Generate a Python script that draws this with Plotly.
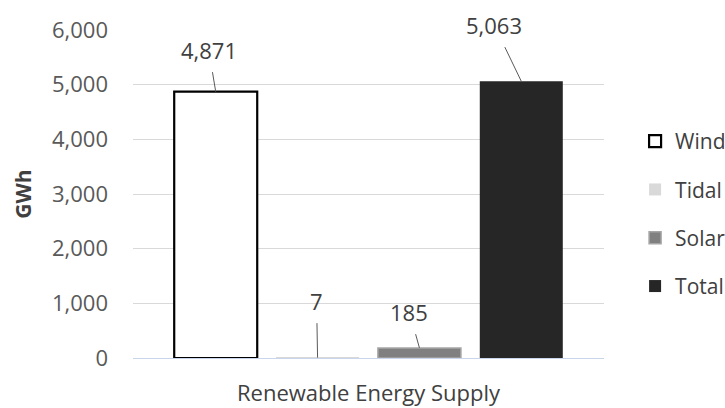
import plotly.graph_objects as go

category = ["Renewable Energy Supply"]
series_names = ["Wind", "Tidal", "Solar", "Total"]
series_values = [4871, 7, 185, 5063]
y_ticks = [0, 1000, 2000, 3000, 4000, 5000, 6000]

fill_colors = ["#ffffff", "#d9d9d9", "#808080", "#262626"]
line_colors = ["#000000", "#d9d9d9", "#a6a6a6", "#262626"]
line_widths = [2.2, 0, 1.5, 0]
# pixel offsets of each data label relative to its bar top (leader lines)
label_dx = [-7, -1, -10, -27]
label_dy = [-42, -57, -36, -56]

FONT = "Open Sans"
BARGAP = 0.135

fig = go.Figure()
for i, name in enumerate(series_names):
    fig.add_trace(go.Bar(
        x=category, y=[series_values[i]], name=name,
        legendgroup=name,
        marker=dict(color=fill_colors[i],
                    line=dict(color=line_colors[i], width=line_widths[i])),
    ))

n = len(series_names)
slot = (1 - BARGAP) / n
for i, v in enumerate(series_values):
    xc = 0 + (i - (n - 1) / 2) * slot
    fig.add_annotation(
        x=xc, y=v, xref="x", yref="y",
        text=f"{v:,}", showarrow=True, arrowhead=0, arrowwidth=1,
        arrowcolor="#595959", ax=label_dx[i], ay=label_dy[i],
        startstandoff=6, standoff=0,
        font=dict(family=FONT, size=22, color="#404040"),
    )

fig.update_layout(
    width=725, height=408,
    margin=dict(l=133, r=121, t=30, b=50, autoexpand=False),
    paper_bgcolor="white", plot_bgcolor="white",
    barmode="group", bargap=BARGAP, bargroupgap=0.185,
    font=dict(family=FONT, size=22, color="#595959"),
    showlegend=True,
    legend=dict(x=1.066, xanchor="left", y=(358 - 214) / 328, yanchor="middle",
                font=dict(family=FONT, size=21, color="#404040"),
                tracegroupgap=18, itemwidth=30, bgcolor="rgba(0,0,0,0)"),
    xaxis=dict(showgrid=False, showline=True, linecolor="#c9d5ea", linewidth=1,
               ticks="", ticklabelstandoff=16, layer="below traces",
               automargin=False,
               tickfont=dict(family=FONT, size=22, color="#404040")),
    yaxis=dict(range=[0, 6000], tickvals=y_ticks, tickformat=",",
               showgrid=True, gridcolor="#d9d9d9", gridwidth=1,
               zeroline=False, showline=False, ticks="",
               ticklabelstandoff=24, layer="below traces",
               automargin=False,
               tickfont=dict(family=FONT, size=22, color="#595959"),
               title=dict(text="<b>GWh</b>", standoff=14,
                          font=dict(family=FONT, size=21, color="#404040"))),
)

fig.write_html("out.html",
               config={"displayModeBar": False},
               post_script="document.body.style.margin='0px';document.body.style.overflow='hidden';")
